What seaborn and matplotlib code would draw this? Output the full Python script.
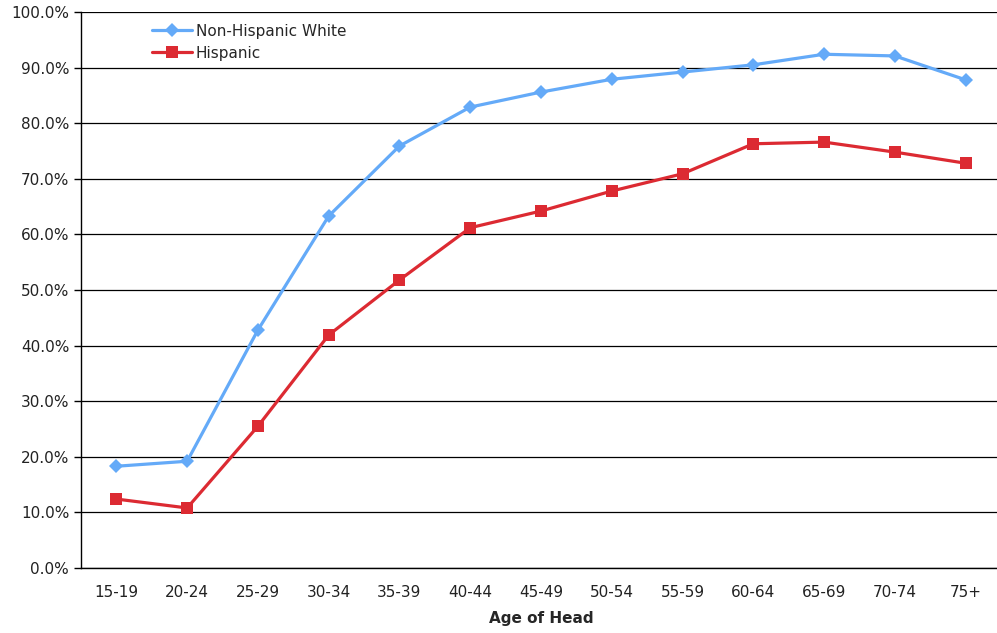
"""Homeownership rate by age of head: Non-Hispanic White vs Hispanic"""

import pandas as pd
import seaborn as sns
import matplotlib.pyplot as plt
from matplotlib.ticker import FuncFormatter, MultipleLocator

sns.set_style("white")
plt.rcParams['font.family'] = ['DejaVu Sans']

age_groups = ['15-19', '20-24', '25-29', '30-34', '35-39', '40-44', '45-49',
              '50-54', '55-59', '60-64', '65-69', '70-74', '75+']
white_rate = [18.3, 19.2, 42.8, 63.3, 75.9, 82.9, 85.6, 87.9, 89.2, 90.5, 92.4, 92.1, 87.8]
hispanic_rate = [12.4, 10.8, 25.5, 41.9, 51.8, 61.2, 64.2, 67.8, 70.9, 76.3, 76.6, 74.8, 72.8]
series_names = ['Non-Hispanic White', 'Hispanic']
series_colors = ['#64AAF8', '#DC2A32']

df = pd.DataFrame({
    'age': age_groups * 2,
    'rate': white_rate + hispanic_rate,
    'group': [series_names[0]] * len(age_groups) + [series_names[1]] * len(age_groups),
})

fig = plt.figure(figsize=(9.97, 6.33), dpi=100)
ax = fig.add_axes([81 / 997, 1 - 568 / 633, 920 / 997, 556 / 633])

sns.pointplot(data=df, x='age', y='rate', hue='group', order=age_groups,
              hue_order=series_names, palette=series_colors,
              markers=['D', 's'], markersize=7, linewidth=2.3,
              errorbar=None, ax=ax)

# smaller, flat markers like the original spreadsheet chart
marker_sizes = {'D': 7.5, 's': 9}
for line in ax.lines:
    line.set_markeredgewidth(0)
    if line.get_marker() in marker_sizes:
        line.set_markersize(marker_sizes[line.get_marker()])

ax.set_ylim(0, 100)
ax.set_xlim(-0.5, len(age_groups) - 0.5)
ax.yaxis.set_major_locator(MultipleLocator(10))
ax.yaxis.set_major_formatter(FuncFormatter(lambda v, p: f"{v:.1f}%"))
ax.grid(axis='y', color='black', linewidth=0.9)
ax.set_axisbelow(True)

# tick marks at category boundaries, labels centred
ax.set_xticks(range(len(age_groups)))
ax.set_xticklabels(age_groups)
ax.set_xticks([i - 0.5 for i in range(len(age_groups) + 1)], minor=True)
ax.tick_params(axis='x', which='major', length=0, pad=12, labelsize=11, colors='#222222')
ax.tick_params(axis='x', which='minor', length=5, width=1, color='black', direction='out')
ax.tick_params(axis='y', length=5, width=1, color='black', direction='out',
               labelsize=11, labelcolor='#222222', left=True)

for side in ['top', 'right']:
    ax.spines[side].set_visible(False)
for side in ['left', 'bottom']:
    ax.spines[side].set_color('black')
    ax.spines[side].set_linewidth(1)

ax.set_xlabel('Age of Head', fontsize=11, fontweight='bold', labelpad=8)
ax.set_ylabel('')

leg = ax.legend(loc='upper left', bbox_to_anchor=(0.071, 0.99), frameon=False,
                fontsize=11, handlelength=2.6, handletextpad=0.25,
                labelspacing=0.45, borderaxespad=0)
for h in leg.legend_handles:
    h.set_markeredgewidth(0)
    if h.get_marker() in marker_sizes:
        h.set_markersize(marker_sizes[h.get_marker()])

plt.savefig('out.png', dpi=100)
plt.close()
